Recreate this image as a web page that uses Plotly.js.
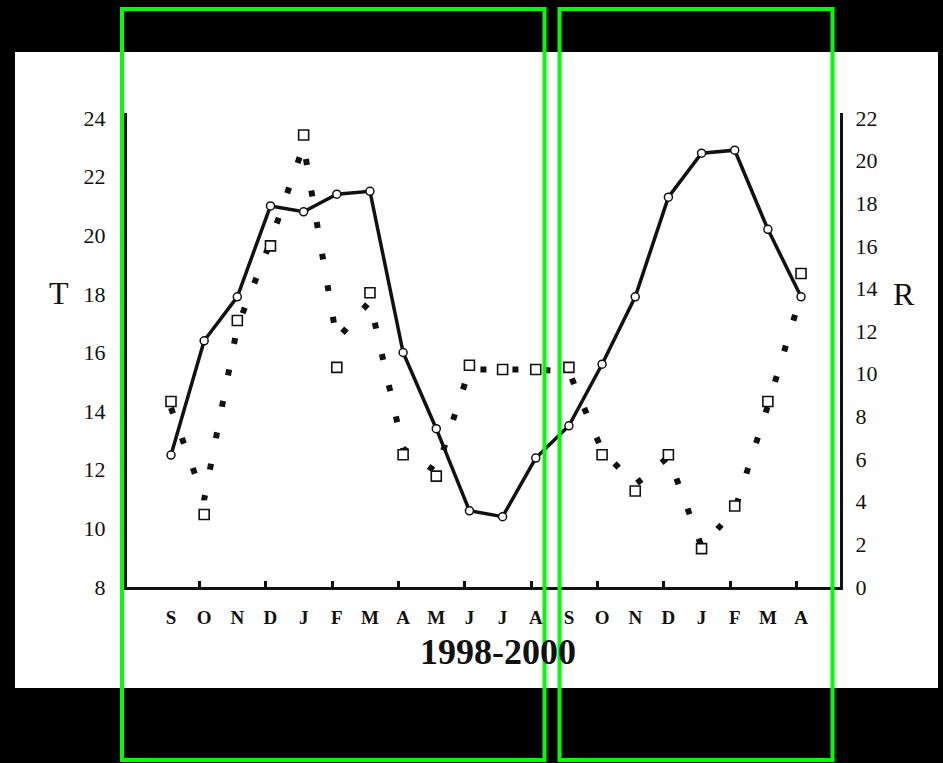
<!DOCTYPE html>
<html>
<head>
<meta charset="utf-8">
<script src="https://cdn.plot.ly/plotly-3.0.1.min.js"></script>
<style>
  html, body { margin: 0; padding: 0; background: #000; }
  #chart { width: 943px; height: 763px; }
</style>
</head>
<body>
<div id="chart"></div>
<script>
// Months from September 1998 to April 2000
const months = ['S','O','N','D','J','F','M','A','M','J','J','A','S','O','N','D','J','F','M','A'];

// T (left axis): solid line with open circles
const tempT = [12.5, 16.4, 17.9, 21.0, 20.8, 21.4, 21.5, 16.0, 13.4, 10.6,
               10.4, 12.4, 13.5, 15.6, 17.9, 21.3, 22.8, 22.9, 20.2, 17.9];

// R (right axis): open squares
const rSquares = [8.7, 3.4, 12.5, 16.0, 21.2, 10.3, 13.8, 6.2, 5.2, 10.4,
                  10.2, 10.2, 10.3, 6.2, 4.5, 6.2, 1.8, 3.8, 8.7, 14.7];

// R (right axis): dotted line
const rDotted = [8.4, 4.1, 12.2, 16.2, 20.7, 11.6, 13.4, 6.5, 5.4, 10.2,
                 10.2, 10.2, 10.1, 6.4, 4.8, 6.1, 1.9, 3.6, 8.5, 13.7];

const leftTicks = [8, 10, 12, 14, 16, 18, 20, 22, 24];
const rightTicks = [0, 2, 4, 6, 8, 10, 12, 14, 16, 18, 20, 22];

const idx = months.map((m, i) => i);
// short tick marks every second month
const markIdx = idx.filter(i => i % 2 === 1).map(i => i - 0.14);

const serif = 'Liberation Serif, Times New Roman, serif';
const ink = '#111';

const traces = [
  {
    x: idx, y: rDotted, yaxis: 'y2', type: 'scatter', mode: 'lines',
    line: { color: ink, width: 6, dash: '6px,26px' },
    hoverinfo: 'skip'
  },
  {
    x: idx, y: rSquares, yaxis: 'y2', type: 'scatter', mode: 'markers',
    marker: { symbol: 'square', size: 10, color: '#fff', line: { color: ink, width: 1.6 } }
  },
  {
    x: idx, y: tempT, yaxis: 'y', type: 'scatter', mode: 'lines+markers',
    line: { color: ink, width: 3.5 },
    marker: { symbol: 'circle', size: 8, color: '#fff', line: { color: ink, width: 1.5 } }
  }
];

// plot area spans 127..840 px horizontally and 113..587 px vertically
const px = v => (v - 127) / 713;
const py = v => (587 - v) / 474;

const layout = {
  width: 943, height: 763,
  margin: { l: 127, r: 103, t: 113, b: 176, pad: 0 },
  paper_bgcolor: '#000',
  plot_bgcolor: 'rgba(0,0,0,0)',
  showlegend: false,
  xaxis: {
    range: [-1.327, 20.175],
    tickmode: 'array', tickvals: idx, ticktext: months,
    ticks: '', ticklabelstandoff: 11,
    tickfont: { family: serif, size: 19, color: ink, weight: 'bold' },
    showline: true, linewidth: 3, linecolor: ink,
    showgrid: false, zeroline: false,
    minor: { tickmode: 'array', tickvals: markIdx, ticks: 'inside', ticklen: 6, tickwidth: 3, tickcolor: ink, showgrid: false }
  },
  yaxis: {
    range: [8, 24.17],
    tickmode: 'array', tickvals: leftTicks,
    ticks: '', ticklabelstandoff: 14,
    tickfont: { family: serif, size: 22, color: ink },
    showline: true, linewidth: 3, linecolor: ink,
    showgrid: false, zeroline: false
  },
  yaxis2: {
    overlaying: 'y', side: 'right',
    range: [0, 22.23],
    tickmode: 'array', tickvals: rightTicks,
    ticks: '', ticklabelstandoff: 8,
    tickfont: { family: serif, size: 22, color: ink },
    showline: true, linewidth: 3, linecolor: ink,
    showgrid: false, zeroline: false
  },
  annotations: [
    { text: 'T', xref: 'paper', yref: 'paper', x: px(59), y: py(293),
      xanchor: 'center', yanchor: 'middle', showarrow: false,
      font: { family: serif, size: 32, color: ink } },
    { text: 'R', xref: 'paper', yref: 'paper', x: px(904), y: py(294),
      xanchor: 'center', yanchor: 'middle', showarrow: false,
      font: { family: serif, size: 32, color: ink } },
    { text: '1998-2000', xref: 'paper', yref: 'paper', x: px(498), y: py(652),
      xanchor: 'center', yanchor: 'middle', showarrow: false,
      font: { family: serif, size: 36, color: ink, weight: 'bold' } }
  ],
  shapes: [
    // white page behind the chart
    { type: 'rect', xref: 'paper', yref: 'paper', layer: 'below',
      x0: px(15), x1: px(938), y0: py(688), y1: py(52),
      fillcolor: '#fff', line: { width: 0 } },
    // highlight frames
    { type: 'rect', xref: 'paper', yref: 'paper', layer: 'above',
      x0: px(122), x1: px(544.5), y0: py(760), y1: py(9),
      fillcolor: 'rgba(0,0,0,0)', line: { color: '#00ff00', width: 4 } },
    { type: 'rect', xref: 'paper', yref: 'paper', layer: 'above',
      x0: px(559.5), x1: px(832.5), y0: py(760), y1: py(9),
      fillcolor: 'rgba(0,0,0,0)', line: { color: '#00ff00', width: 4 } }
  ]
};

Plotly.newPlot('chart', traces, layout, { displayModeBar: false, staticPlot: true });
</script>
</body>
</html>
